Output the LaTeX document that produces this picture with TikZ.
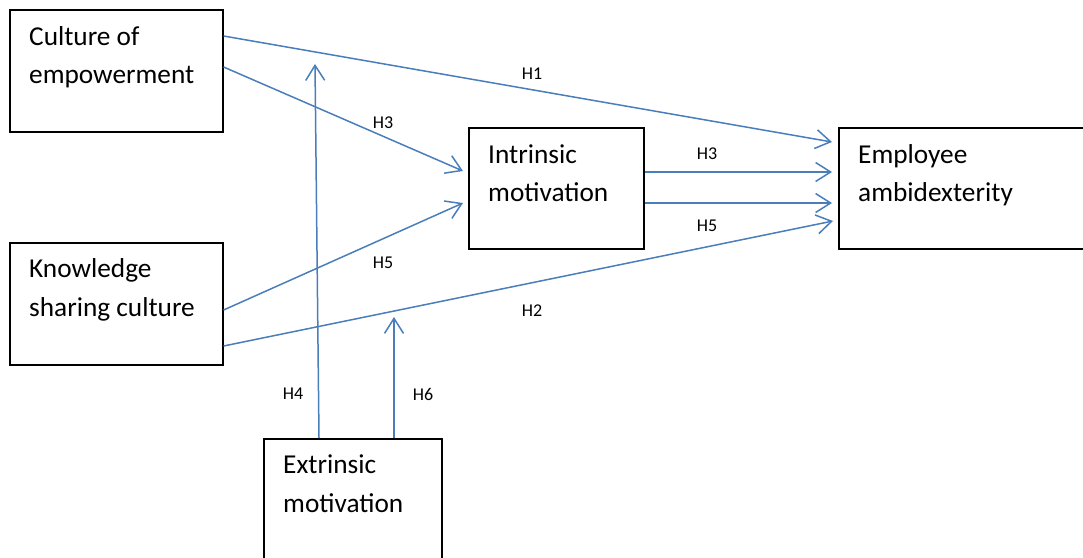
\documentclass[tikz,border=0pt]{standalone}
\usepackage{fontspec}
\setmainfont{Carlito}
\usetikzlibrary{arrows.meta,calc}
\definecolor{lnblue}{HTML}{4A7EBB}
\tikzset{
  box/.style={draw=black, line width=1.6pt, rectangle, anchor=north west, inner sep=0pt},
  boxtext/.style={anchor=base west, inner sep=0pt, font=\fontsize{27.3}{32}\selectfont},
  hlab/.style={inner sep=0pt, font=\fontsize{18}{21}\selectfont},
  arr/.style={draw=lnblue, line width=1.5pt, -{Straight Barb[length=15pt, width=19pt, line width=1.5pt]}}
}
\begin{document}
\begin{tikzpicture}[x=1pt, y=-1pt]
\useasboundingbox (0,0) rectangle (1083,557);
% boxes
\node[box, minimum width=213pt, minimum height=122pt] (cult) at (9,9) {};
\node[box, minimum width=213pt, minimum height=122pt] (know) at (9,242) {};
\node[box, minimum width=175pt, minimum height=121pt] (intr) at (468,127) {};
\node[box, minimum width=260pt, minimum height=121pt] (empl) at (838,127) {};
\node[box, minimum width=178pt, minimum height=140pt] (extr) at (263,438) {};
% box texts
\node[boxtext] (cult1) at ($(cult.north west)+(20,36)$) {Culture of};
\node[boxtext] (cult2) at ($(cult.north west)+(20,74)$) {empowerment};
\node[boxtext] (know1) at ($(know.north west)+(20,35)$) {Knowledge};
\node[boxtext] (know2) at ($(know.north west)+(20,74)$) {sharing culture};
\node[boxtext] (intr1) at ($(intr.north west)+(20,36)$) {Intrinsic};
\node[boxtext] (intr2) at ($(intr.north west)+(20,74)$) {motivation};
\node[boxtext] (empl1) at ($(empl.north west)+(20,36)$) {Employee};
\node[boxtext] (empl2) at ($(empl.north west)+(20,74)$) {ambidexterity};
\node[boxtext] (extr1) at ($(extr.north west)+(20,35)$) {Extrinsic};
\node[boxtext] (extr2) at ($(extr.north west)+(20,74)$) {motivation};
% free ends of moderator arrows
\coordinate (m4) at (315,64);
\coordinate (m6) at (394,317);
% connectors
\draw[arr] ($(cult.north east)+(0,27)$) -- ($(empl.north west)+(-6,15)$);
\draw[arr] ($(cult.north east)+(0,58)$) -- ($(intr.north west)+(-5,44)$);
\draw[arr] ($(know.north east)+(0,68)$) -- ($(intr.north west)+(-5,76)$);
\draw[arr] ($(know.north east)+(0,104)$) -- ($(empl.north west)+(-5,94)$);
\draw[arr] ($(intr.north east)+(0,45)$) -- ($(empl.north west)+(-6,45)$);
\draw[arr] ($(intr.north east)+(0,76)$) -- ($(empl.north west)+(-6,76)$);
\draw[arr] ($(extr.north west)+(56,0)$) -- (m4);
\draw[arr] ($(extr.north west)+(131,0)$) -- (m6);
% labels
\node[hlab] (h1) at (532,74) {H1};
\node[hlab] (h3a) at (383,123) {H3};
\node[hlab] (h5a) at (383,263) {H5};
\node[hlab] (h2) at (532,311) {H2};
\node[hlab] (h3b) at (707,154) {H3};
\node[hlab] (h5b) at (707,226) {H5};
\node[hlab] (h4) at (293,394) {H4};
\node[hlab] (h6) at (423,394) {H6};
\end{tikzpicture}
\end{document}
